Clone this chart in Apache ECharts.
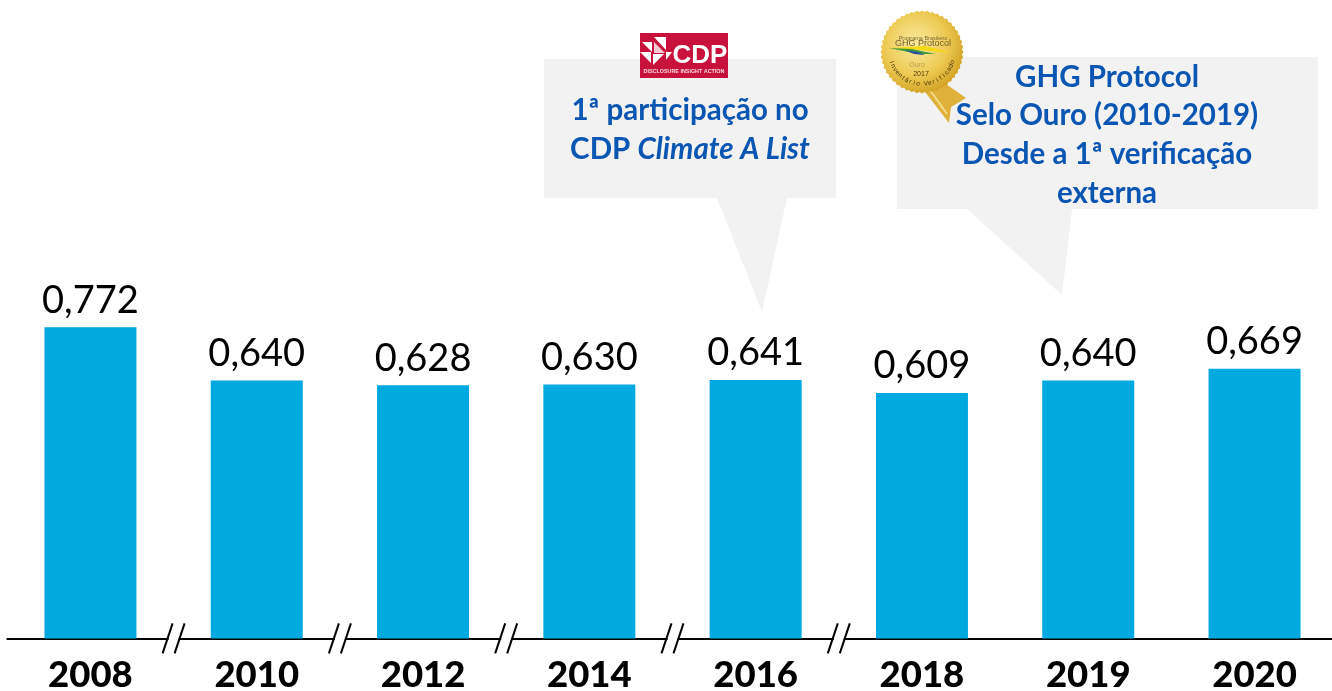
<!DOCTYPE html>
<html>
<head>
<meta charset="utf-8">
<style>
html, body {margin: 0; padding: 0; background: #fff;}
#main {width: 1332px; height: 691px;}
</style>
<script src="https://cdn.jsdelivr.net/npm/echarts@6/dist/echarts.min.js"></script>
</head>
<body>
<div id="main"></div>
<script>
// dados do gráfico
var anos = ['2008', '2010', '2012', '2014', '2016', '2018', '2019', '2020'];
var valores = [0.772, 0.640, 0.628, 0.630, 0.641, 0.609, 0.640, 0.669];
// quebras do eixo: índice da barra à esquerda de cada //
var quebras = [0, 1, 2, 3, 4];

var fonte = 'Lato';
var azulTexto = '#0b56b3';
var cinzaBalao = '#f2f2f2';

// contorno serrilhado do selo
var contornoSelo = [];
for (var i = 0; i < 96; i++) {
    var ang = i / 96 * Math.PI * 2;
    var raio = i % 2 === 0 ? 41.5 : 40;
    contornoSelo.push([922 + raio * Math.cos(ang), 52 + raio * Math.sin(ang)]);
}

function textoSelo(txt, x, y, size, cor, peso, rot) {
    return {
        type: 'text', x: x, y: y, rotation: rot || 0, z: 14,
        style: {text: txt, fill: cor, font: (peso || 'normal') + ' ' + size + 'px "Liberation Sans"', align: 'center', verticalAlign: 'middle'}
    };
}

function linhaTexto(txt, x, y) {
    return {
        type: 'text', x: x, y: y, z: 12,
        style: {text: txt, fill: azulTexto, font: 'bold 29.5px ' + fonte, align: 'center', verticalAlign: 'middle'}
    };
}

// "Inventário Verificado" em arco na parte de baixo do selo
var arcoTexto = 'Inventário Verificado'.split('');
var elementosArco = [];
for (var k = 0; k < arcoTexto.length; k++) {
    var a = (k - (arcoTexto.length - 1) / 2) * 0.125;
    elementosArco.push(textoSelo(arcoTexto[k], 922 + 32 * Math.sin(a), 52 + 32 * Math.cos(a), 6.5, '#4a3a10', 'normal', a));
}

var elementos = [
    // balão CDP
    {type: 'polygon', z: 10, shape: {points: [[544, 59], [836, 59], [836, 198], [787, 198], [762, 312], [717, 198], [544, 198]]}, style: {fill: cinzaBalao}},
    // logo CDP
    {type: 'rect', z: 11, shape: {x: 640, y: 33, width: 88, height: 45}, style: {fill: '#c8123c'}},
    {type: 'polygon', z: 12, shape: {points: [[642, 42], [652, 42], [652, 52]]}, style: {fill: '#fff'}},
    {type: 'polygon', z: 12, shape: {points: [[654, 37], [666, 37], [666, 50]]}, style: {fill: '#fff'}},
    {type: 'polygon', z: 12, shape: {points: [[654, 42], [654, 53], [665, 53]]}, style: {fill: '#f4c9d2'}},
    {type: 'polygon', z: 12, shape: {points: [[640, 52], [651, 52], [651, 63]]}, style: {fill: '#fff'}},
    {type: 'polygon', z: 12, shape: {points: [[653, 54], [664, 54], [653, 65]]}, style: {fill: '#fff'}},
    {type: 'polygon', z: 12, shape: {points: [[666, 52], [672, 52], [666, 60]]}, style: {fill: '#fff'}},
    {type: 'text', x: 700, y: 56, z: 12, style: {text: 'CDP', fill: '#fff', font: 'bold 26px "Liberation Sans"', align: 'center', verticalAlign: 'middle'}},
    {type: 'text', x: 684, y: 72, z: 12, style: {text: 'DISCLOSURE INSIGHT ACTION', fill: '#f7dbe1', font: 'bold 5.4px "Liberation Sans"', align: 'center', verticalAlign: 'middle'}},
    linhaTexto('1ª participação no', 690, 110),
    {
        type: 'text', x: 690, y: 149, z: 12,
        style: {
            text: '{n|CDP }{i|Climate A List}',
            align: 'center', verticalAlign: 'middle',
            rich: {
                n: {fill: azulTexto, font: 'bold 29.5px ' + fonte},
                i: {fill: azulTexto, font: 'italic bold 29.5px ' + fonte}
            }
        }
    },
    // balão GHG
    {type: 'polygon', z: 10, shape: {points: [[897, 57], [1318, 57], [1318, 209], [1072, 209], [1062, 295], [967, 209], [897, 209]]}, style: {fill: cinzaBalao}},
    linhaTexto('GHG Protocol', 1107, 77),
    linhaTexto('Selo Ouro (2010-2019)', 1107, 115),
    linhaTexto('Desde a 1ª verificação', 1107, 154),
    linhaTexto('externa', 1107, 193),
    // selo
    {type: 'polygon', z: 12, shape: {points: [[922, 88], [949, 123], [951, 107], [966, 98], [946, 84]]}, style: {fill: '#dfb13a'}},
    {type: 'polyline', z: 12, shape: {points: [[930, 90], [947, 114]]}, style: {stroke: '#f4dc8c', lineWidth: 2, fill: 'none'}},
    {
        type: 'polygon', z: 13, shape: {points: contornoSelo},
        style: {
            fill: {
                type: 'radial', x: 0.42, y: 0.4, r: 0.65,
                colorStops: [{offset: 0, color: '#fbeb9f'}, {offset: 0.6, color: '#ecc952'}, {offset: 1, color: '#cf9d1e'}]
            }
        }
    },
    {type: 'polygon', z: 14, shape: {points: [[889, 48], [925, 46], [953, 53], [922, 50]]}, style: {fill: '#f6d90f'}},
    {type: 'polygon', z: 14, shape: {points: [[889, 48], [912, 49], [935, 54], [918, 54]]}, style: {fill: '#3f9a3a'}},
    {type: 'polygon', z: 14, shape: {points: [[905, 50], [918, 52], [925, 55], [914, 54]]}, style: {fill: '#2a4e9e'}},
    textoSelo('Programa Brasileiro', 923, 38, 5.5, '#7d6a35'),
    textoSelo('GHG Protocol', 923, 44, 9, '#6f5e2c'),
    textoSelo('Ouro', 917, 65, 7, '#b89a4a'),
    textoSelo('2017', 921, 74, 7, '#4a3a10')
].concat(elementosArco);

var myChart = echarts.init(document.getElementById('main'));
myChart.setOption({
    animation: false,
    textStyle: {fontFamily: fonte},
    grid: {left: 7.3, top: 235.4, width: 1330.4, height: 403, outerBoundsMode: 'none'},
    xAxis: {
        type: 'category',
        data: anos,
        axisLine: {lineStyle: {color: '#000', width: 2}},
        axisTick: {show: false},
        axisLabel: {color: '#000', fontFamily: fonte, fontWeight: 900, fontSize: 36.5, margin: 18.5, interval: 0}
    },
    yAxis: {type: 'value', min: 0, max: 1, show: false},
    series: [{
        type: 'bar',
        data: valores,
        barWidth: 92,
        itemStyle: {color: '#00a9e0'},
        label: {
            show: true,
            position: 'top',
            distance: 8,
            color: '#000',
            fontFamily: fonte,
            fontSize: 38,
            formatter: function (p) {
                return p.value.toFixed(3).replace('.', ',');
            }
        }
    }, {
        // marcas // entre as barras
        type: 'custom',
        data: quebras,
        silent: true,
        z: 5,
        encode: {x: 0},
        renderItem: function (params, api) {
            var base = api.coord([api.value(0), 0]);
            var x = base[0] + api.size([1, 0])[0] / 2;
            var y = base[1];
            var traco = {stroke: '#000', lineWidth: 2};
            return {
                type: 'group',
                children: [
                    {type: 'rect', shape: {x: x - 5, y: y - 3, width: 10, height: 6}, style: {fill: '#fff'}},
                    {type: 'line', shape: {x1: x - 11, y1: y + 15, x2: x - 1, y2: y - 15}, style: traco},
                    {type: 'line', shape: {x1: x + 1, y1: y + 15, x2: x + 11, y2: y - 15}, style: traco}
                ]
            };
        }
    }],
    graphic: {elements: elementos}
});
</script>
</body>
</html>
